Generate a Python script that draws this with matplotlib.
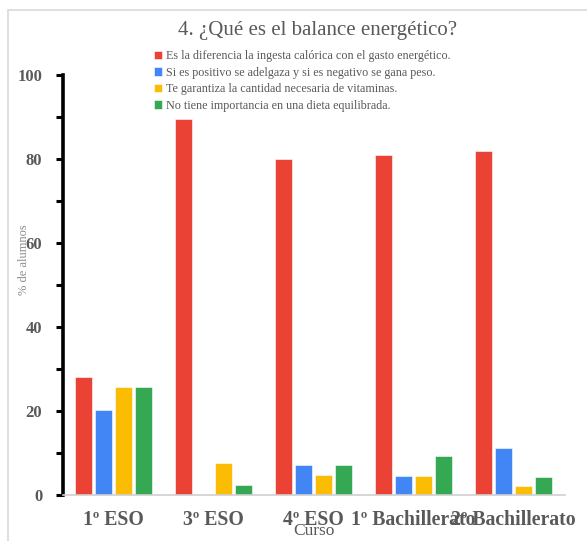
import matplotlib
matplotlib.use("Agg")
import matplotlib.pyplot as plt
import numpy as np
from matplotlib.patches import Rectangle

categories = ["1º ESO", "3º ESO", "4º ESO", "1º Bachillerato", "2º Bachillerato"]
series_names = [
    "Es la diferencia la ingesta calórica con el gasto energético.",
    "Si es positivo se adelgaza y si es negativo se gana peso.",
    "Te garantiza la cantidad necesaria de vitaminas.",
    "No tiene importancia en una dieta equilibrada.",
]
s_diferencia = [28.0, 89.5, 80.0, 81.0, 81.8]
s_positivo = [20.2, 0.0, 7.2, 4.5, 11.2]
s_vitaminas = [25.6, 7.6, 4.8, 4.5, 2.1]
s_importancia = [25.6, 2.4, 7.2, 9.3, 4.3]
colors = ["#EA4335", "#4285F4", "#FBBC04", "#34A853"]

yticks = [0, 20, 40, 60, 80, 100]

font = "Liberation Serif"
gray = "#595959"

fig = plt.figure(figsize=(5.87, 5.41), dpi=100)
fig.patches.append(Rectangle((8/587, -0.1), 1.2, 1 - 10/541 + 0.1, transform=fig.transFigure,
                             fill=False, edgecolor="#d9d9d9", linewidth=1.2))
ax = fig.add_axes([63/587, 1 - 495/541, (565 - 63)/587, (495 - 75)/541])

x = np.arange(len(categories))
all_series = [s_diferencia, s_positivo, s_vitaminas, s_importancia]
offsets = [-0.3, -0.1, 0.1, 0.3]
for vals, off, c, name in zip(all_series, offsets, colors, series_names):
    ax.bar(x + off, vals, width=0.17, color=c, label=name, edgecolor="white", linewidth=0.4)

ax.set_xlim(-0.5, 4.52)
ax.set_ylim(0, 100)
ax.set_yticks(yticks)
ax.set_yticks(np.arange(10, 100, 20), minor=True)
ax.set_yticklabels([str(v) for v in yticks], fontfamily=font, fontweight="bold", fontsize=12, color=gray)
ax.tick_params(axis="y", which="both", direction="out", length=5, width=2.2, color="black", pad=10)
ax.set_xticks(x)
ax.set_xticklabels(categories, fontfamily=font, fontweight="bold", fontsize=14.2, color=gray)
ax.tick_params(axis="x", length=0, pad=11)

for s in ["top", "right"]:
    ax.spines[s].set_visible(False)
ax.spines["left"].set_linewidth(2.6)
ax.spines["left"].set_color("black")
ax.spines["bottom"].set_color("#d0d0d0")
ax.spines["bottom"].set_linewidth(1.2)

ax.set_ylabel("% de alumnos", fontfamily=font, fontsize=9, color="#8c8c8c")
ax.yaxis.set_label_coords(-0.066, 0.56)
ax.set_xlabel("Curso", fontfamily=font, fontsize=12.5, color=gray, labelpad=-5)

fig.text(318/587, 1 - 31/541, "4. ¿Qué es el balance energético?", ha="center", va="center",
         fontfamily=font, fontsize=15, color=gray)

leg = fig.legend(loc="upper left", bbox_to_anchor=(154/587, 1 - 50/541), frameon=False,
                 prop={"family": font, "size": 8.7}, handlelength=0.7, handleheight=0.7,
                 handletextpad=0.3, labelspacing=0.38, borderpad=0, borderaxespad=0)
for t in leg.get_texts():
    t.set_color(gray)

fig.savefig("out.png", dpi=100)
